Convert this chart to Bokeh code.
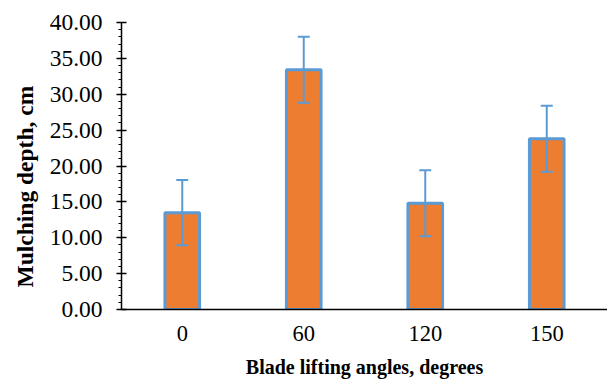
from bokeh.plotting import figure
from bokeh.models import (ColumnDataSource, Whisker, SingleIntervalTicker, FixedTicker,
                          PrintfTickFormatter, Range1d, TeeHead, Title)
from bokeh.embed import file_html
from bokeh.resources import INLINE

categories = ["0", "60", "120", "150"]
values = [13.5, 33.4, 14.8, 23.8]
errors = [4.55, 4.6, 4.6, 4.6]

xs = list(range(len(categories)))
src = ColumnDataSource(dict(
    x=xs, top=values,
    upper=[v + e for v, e in zip(values, errors)],
    lower=[v - e for v, e in zip(values, errors)],
))

p = figure(width=607, height=382, output_backend="svg", toolbar_location=None,
           x_range=Range1d(-0.5, len(categories) - 0.5), y_range=Range1d(0, 40),
           min_border_left=120, min_border_right=0, min_border_top=22, min_border_bottom=73)
p.outline_line_color = None
p.xgrid.grid_line_color = None
p.ygrid.grid_line_color = None

p.vbar(x="x", top="top", width=0.285, bottom=0, source=src,
       fill_color="#ED7D31", line_color="#5B9BD5", line_width=3)

w = Whisker(base="x", upper="upper", lower="lower", source=src,
            line_color="#5B9BD5", line_width=2, level="overlay",
            upper_head=TeeHead(size=12, line_color="#5B9BD5", line_width=2),
            lower_head=TeeHead(size=12, line_color="#5B9BD5", line_width=2))
p.add_layout(w)

font = "'Liberation Serif', 'Times New Roman', serif"
p.yaxis.ticker = SingleIntervalTicker(interval=5, num_minor_ticks=5)
p.yaxis.formatter = PrintfTickFormatter(format="%.2f")
p.yaxis.major_tick_in = 5
p.yaxis.major_tick_out = 5
p.yaxis.minor_tick_in = 0
p.yaxis.minor_tick_out = 3
p.yaxis.axis_line_width = 1.5
p.yaxis.major_tick_line_width = 1.5
p.yaxis.minor_tick_line_width = 1.2
p.yaxis.axis_line_color = "black"
p.yaxis.major_tick_line_color = "black"
p.yaxis.minor_tick_line_color = "black"
p.yaxis.major_label_text_font = font
p.yaxis.major_label_text_font_size = "23.5px"
p.yaxis.major_label_text_color = "black"
p.yaxis.major_label_standoff = 14

ytitle = Title(text="Mulching depth, cm", align="left", offset=22,
               text_font=font, text_font_style="bold", text_font_size="23.5px",
               text_color="black", standoff=18)
p.add_layout(ytitle, "left")

p.xaxis.ticker = FixedTicker(ticks=xs)
p.xaxis.major_label_overrides = {i: c for i, c in zip(xs, categories)}
p.xaxis.major_tick_in = 0
p.xaxis.major_tick_out = 0
p.xaxis.minor_tick_line_color = None
p.xaxis.axis_line_width = 1.5
p.xaxis.axis_line_color = "black"
p.xaxis.major_label_text_font = font
p.xaxis.major_label_text_font_size = "22.5px"
p.xaxis.major_label_text_color = "black"
p.xaxis.major_label_standoff = 16
p.xaxis.axis_label = "Blade lifting angles, degrees"
p.xaxis.axis_label_text_font = font
p.xaxis.axis_label_text_font_style = "bold"
p.xaxis.axis_label_text_font_size = "20px"
p.xaxis.axis_label_text_color = "black"
p.xaxis.axis_label_standoff = 12

open("out.html", "w").write(file_html(p, INLINE))
